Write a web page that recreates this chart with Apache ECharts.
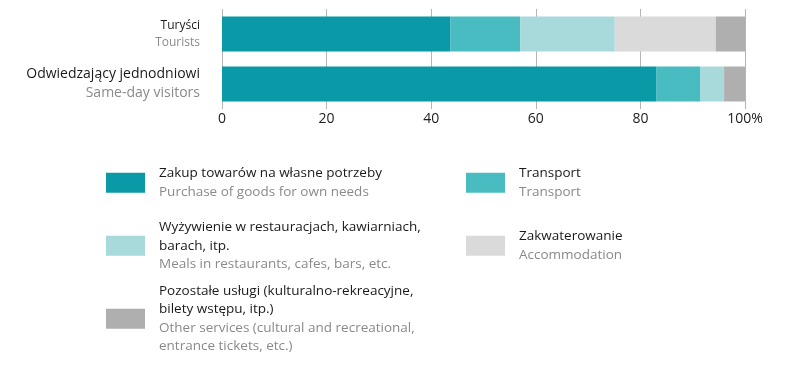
<!DOCTYPE html>
<html>
<head>
<meta charset="utf-8">
<script src="https://cdn.jsdelivr.net/npm/echarts@6/dist/echarts.min.js"></script>
<style>
html,body{margin:0;padding:0;background:#fff;}
#chart{width:786px;height:371px;}
</style>
</head>
<body>
<div id="chart"></div>
<script>
// ---- data ----
var categoriesPL = ['Turyści', 'Odwiedzający jednodniowi'];
var categoriesEN = ['Tourists', 'Same-day visitors'];
var seriesNamesPL = [
  'Zakup towarów na własne potrzeby',
  'Transport',
  'Wyżywienie w restauracjach, kawiarniach, barach, itp.',
  'Zakwaterowanie',
  'Pozostałe usługi (kulturalno-rekreacyjne, bilety wstępu, itp.)'
];
var legendLinesPL = [
  ['Zakup towarów na własne potrzeby'],
  ['Transport'],
  ['Wyżywienie w restauracjach, kawiarniach,', 'barach, itp.'],
  ['Zakwaterowanie'],
  ['Pozostałe usługi (kulturalno-rekreacyjne,', 'bilety wstępu, itp.)']
];
var legendLinesEN = [
  ['Purchase of goods for own needs'],
  ['Transport'],
  ['Meals in restaurants, cafes, bars, etc.'],
  ['Accommodation'],
  ['Other services (cultural and recreational,', 'entrance tickets, etc.)']
];
var goods         = [43.7, 83.1];
var transport     = [13.3, 8.4];
var meals         = [18.1, 4.5];
var accommodation = [19.3, 0];
var other         = [5.6, 4.0];
var seriesValues = [goods, transport, meals, accommodation, other];
var xTicks = [0, 20, 40, 60, 80, 100];

// ---- styles ----
var colors = ['#0a99a6', '#48bcc1', '#a8d9db', '#dadada', '#afafaf'];
var FONT = 'Open Sans';

var chart = echarts.init(document.getElementById('chart'));

var series = seriesNamesPL.map(function (n, i) {
  return {
    name: n,
    type: 'bar',
    stack: 'total',
    barWidth: 35,
    itemStyle: { color: colors[i] },
    data: seriesValues[i],
    animation: false
  };
});

// legend positions (layout only)
var legendPos = [
  { left: 106, center: 185 },
  { left: 466, center: 185 },
  { left: 106, center: 248 },
  { left: 466, center: 248 },
  { left: 106, center: 321 }
];
var LH = 18.5;
var legends = seriesNamesPL.map(function (n, i) {
  var lines = legendLinesPL[i].length + legendLinesEN[i].length;
  var h = lines * LH;
  return {
    show: true,
    data: [n],
    left: legendPos[i].left,
    top: legendPos[i].center - h / 2,
    padding: 0,
    orient: 'vertical',
    icon: 'rect',
    itemWidth: 39,
    itemHeight: 20,
    selectedMode: false,
    formatter: function () {
      var s = legendLinesPL[i].map(function (t) { return '{a|' + t + '}'; })
        .concat(legendLinesEN[i].map(function (t) { return '{b|' + t + '}'; }));
      return s.join('\n');
    },
    textStyle: {
      padding: [0, 0, 0, 9],
      fontFamily: FONT,
      rich: {
        a: { fontSize: 13.5, color: '#1a1a1a', lineHeight: LH, fontFamily: FONT },
        b: { fontSize: 13.5, color: '#8a8a8a', lineHeight: LH, fontFamily: FONT }
      }
    }
  };
});

chart.setOption({
  animation: false,
  textStyle: { fontFamily: FONT },
  grid: { left: 222, right: 41, top: 9, bottom: 262, containLabel: false },
  legend: legends,
  xAxis: {
    type: 'value',
    min: 0,
    max: 100,
    interval: 20,
    axisLine: { show: false },
    axisTick: { show: false },
    splitLine: { show: true, lineStyle: { color: '#b5b5b5', width: 1 } },
    axisLabel: {
      margin: 3,
      fontSize: 14,
      color: '#222',
      fontFamily: FONT,
      formatter: function (v) { return v === 100 ? '100%' : String(v); }
    }
  },
  yAxis: {
    type: 'category',
    inverse: true,
    data: categoriesPL,
    axisLine: { show: false },
    axisTick: { show: false },
    axisLabel: {
      margin: 22,
      align: 'right',
      formatter: function (v, idx) {
        if (idx === 0) return '{a|' + v + '}\n{b|' + categoriesEN[idx] + '}';
        return '{c|' + v + '}\n{d|' + categoriesEN[idx] + '}';
      },
      rich: {
        a: { fontSize: 12, color: '#1a1a1a', lineHeight: 17, align: 'right', fontFamily: FONT },
        b: { fontSize: 12, color: '#8a8a8a', lineHeight: 17, align: 'right', fontFamily: FONT },
        c: { fontSize: 14, color: '#1a1a1a', lineHeight: 19, align: 'right', fontFamily: FONT },
        d: { fontSize: 14, color: '#8a8a8a', lineHeight: 19, align: 'right', fontFamily: FONT }
      }
    }
  },
  series: series
});
</script>
</body>
</html>
